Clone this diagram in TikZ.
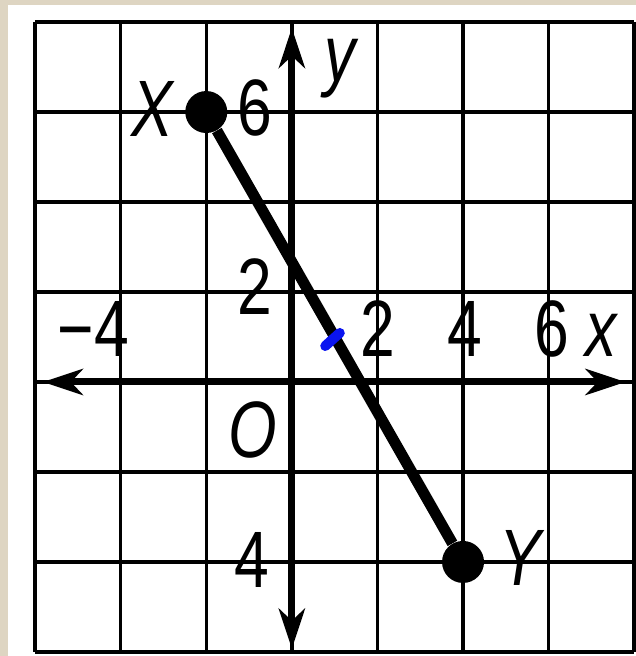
\documentclass[tikz,border=0pt]{standalone}
\usepackage{fontspec}
\setmainfont{Liberation Sans}[FakeStretch=0.78]
\usetikzlibrary{positioning, arrows.meta}
\definecolor{paperbeige}{RGB}{222, 213, 194}
\definecolor{tickblue}{RGB}{10, 20, 240}
\tikzset{
  gridline/.style={line width=1.75pt, black},
  axisline/.style={line width=3.5pt, black, {Stealth[length=20pt, width=13pt, inset=6pt]}-{Stealth[length=20pt, width=13pt, inset=6pt]}},
  segment/.style={line width=5.5pt, black},
  endpoint/.style={circle, fill=black, inner sep=0pt, minimum size=21pt},
  numlbl/.style={font=\fontsize{40}{40}\selectfont, inner sep=0pt},
  varlbl/.style={font=\fontsize{40}{40}\selectfont\itshape, inner sep=0pt}
}

\begin{document}
\begin{tikzpicture}[x=21.4pt, y=22.5pt]

% Background paper and white sheet
\fill[paperbeige] (-6.82,-6.09) rectangle (8.04,8.49);
\fill[white] (-6.64,-6.09) rectangle (8.04,8.37);
\useasboundingbox (-6.82,-6.09) rectangle (8.04,8.49);

% Grid
\draw[gridline, step=2] (-6,-6) grid (8,8);

% Axes
\draw[axisline] (-5.82,0) -- (7.80,0);
\draw[axisline] (0,-5.93) -- (0,7.87);

% Endpoints and segment
\node[endpoint] (ptX) at (-2,6) {};
\node[endpoint] (ptY) at (4,-4) {};
\draw[segment] (ptX) -- (ptY);

% Midpoint mark
\draw[tickblue, line width=5pt, line cap=round] (0.78,0.80) -- (1.12,1.09);

% Axis labels
\node[varlbl] (xlbl) at (7.22,1.04) {x};
\node[varlbl] (ylbl) at (1.12,6.97) {y};
\node[varlbl] (orig) at (-0.91,-1.07) {O};

% Tick numbers
\node[numlbl] (xm4) at (-4.64,1.18) {−4};
\node[numlbl] (xp2) at (2.01,1.18) {2};
\node[numlbl] (xp4) at (4.04,1.18) {4};
\node[numlbl] (xp6) at (6.07,1.18) {6};
\node[numlbl] (yp6) at (-0.86,6.10) {6};
\node[numlbl] (yp2) at (-0.86,2.13) {2};
\node[numlbl] (ym4) at (-0.93,-3.95) {4};

% Point names
\node[varlbl] (nameX) at (-3.27,6.06) {X};
\node[varlbl] (nameY) at (5.33,-3.91) {Y};

\end{tikzpicture}
\end{document}
